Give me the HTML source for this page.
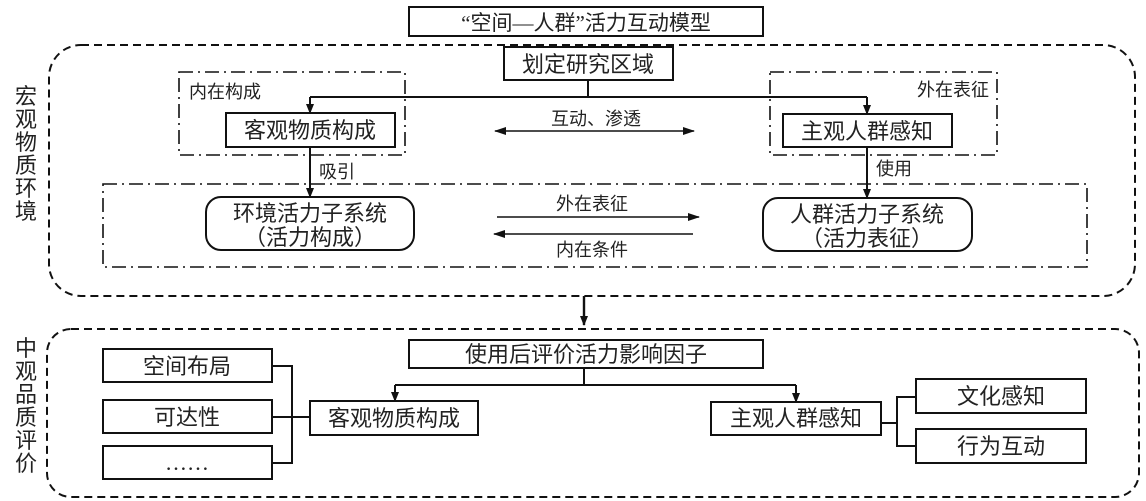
<!DOCTYPE html>
<html><head><meta charset="utf-8"><style>
html,body{margin:0;padding:0;background:#fff;}
svg{display:block;}
text{font-family:"Liberation Serif","Noto Sans CJK SC",sans-serif;fill:#222;}
</style></head><body>
<svg width="1146" height="501" viewBox="0 0 1146 501" xmlns="http://www.w3.org/2000/svg">
<defs>
<marker id="a" markerWidth="10" markerHeight="8" refX="9" refY="4" orient="auto" markerUnits="userSpaceOnUse">
<path d="M0,0 L10,4 L0,8 Z" fill="#111"/></marker>
<marker id="s" markerWidth="12" markerHeight="8" refX="11" refY="4" orient="auto-start-reverse" markerUnits="userSpaceOnUse">
<path d="M0,0 L12,4 L0,8 Z" fill="#111"/></marker>
</defs>
<g stroke="#111" fill="none">
<rect x="409" y="7" width="354" height="29" stroke-width="2"/>
<rect x="49" y="45" width="1086" height="251" rx="32" stroke-width="2" stroke-dasharray="8,5"/>
<rect x="47" y="329" width="1092" height="168" rx="24" stroke-width="2" stroke-dasharray="8,5"/>
<rect x="179" y="72" width="226" height="83" stroke-width="1.6" stroke-dasharray="14,5,2,5"/>
<rect x="770" y="72" width="227" height="83" stroke-width="1.6" stroke-dasharray="14,5,2,5"/>
<rect x="103" y="184" width="984" height="83" stroke-width="1.6" stroke-dasharray="14,5,2,5"/>
<rect x="504" y="47" width="169" height="33" stroke-width="2"/>
<rect x="226" y="113" width="169" height="34" stroke-width="2"/>
<rect x="783" y="114" width="169" height="33" stroke-width="2"/>
<rect x="206" y="197" width="208" height="53" rx="15" stroke-width="2"/>
<rect x="763" y="198" width="209" height="53" rx="15" stroke-width="2"/>
<path d="M588,80 V97 M310,97 H867" stroke-width="2"/>
<path d="M310,97 V113" stroke-width="2" marker-end="url(#a)"/>
<path d="M867,97 V114" stroke-width="2" marker-end="url(#a)"/>
<path d="M310,147 V197" stroke-width="2" marker-end="url(#a)"/>
<path d="M867,147 V198" stroke-width="2" marker-end="url(#a)"/>
<path d="M495,131 H694" stroke-width="1.6" marker-start="url(#s)" marker-end="url(#s)"/>
<path d="M497,217 H699" stroke-width="1.6" marker-end="url(#s)"/>
<path d="M693,234 H494" stroke-width="1.6" marker-end="url(#s)"/>
<path d="M584,296 V325" stroke-width="2.4" marker-end="url(#a)"/>
<rect x="409" y="340" width="354" height="28" stroke-width="2"/>
<path d="M584,368 V385 M395,385 H796" stroke-width="2"/>
<path d="M395,385 V401" stroke-width="2" marker-end="url(#a)"/>
<path d="M796,385 V402" stroke-width="2" marker-end="url(#a)"/>
<rect x="310" y="401" width="168" height="34" stroke-width="2"/>
<rect x="103" y="349" width="169" height="33" stroke-width="2"/>
<rect x="103" y="400" width="169" height="33" stroke-width="2"/>
<rect x="103" y="446" width="169" height="33" stroke-width="2"/>
<path d="M272,366 H292 V463 H272 M272,417 H310" stroke-width="2"/>
<rect x="711" y="402" width="170" height="33" stroke-width="2"/>
<rect x="916" y="379" width="170" height="34" stroke-width="2"/>
<rect x="916" y="429" width="170" height="34" stroke-width="2"/>
<path d="M881,423 H897 M916,397 H897 V446 H916" stroke-width="2"/>
</g>
<g font-size="22" text-anchor="middle">
<text x="588" y="72">划定研究区域</text>
<text x="310" y="138">客观物质构成</text>
<text x="867" y="139">主观人群感知</text>
<text x="310" y="221">环境活力子系统</text>
<text x="310" y="245">（活力构成）</text>
<text x="867" y="222">人群活力子系统</text>
<text x="867" y="246">（活力表征）</text>
<text x="586" y="362">使用后评价活力影响因子</text>
<text x="394" y="426">客观物质构成</text>
<text x="796" y="426">主观人群感知</text>
<text x="187" y="374">空间布局</text>
<text x="187" y="425">可达性</text>
<text x="187" y="470">……</text>
<text x="1001" y="404">文化感知</text>
<text x="1001" y="454">行为互动</text>
</g>
<text x="586" y="30" font-size="21" text-anchor="middle">“空间—人群”活力互动模型</text>
<g font-size="18" text-anchor="middle">
<text x="225" y="98">内在构成</text>
<text x="953" y="96">外在表征</text>
<text x="596" y="125">互动、渗透</text>
<text x="337" y="178">吸引</text>
<text x="894" y="175">使用</text>
<text x="592" y="210">外在表征</text>
<text x="592" y="256">内在条件</text>
</g>
<g font-size="22" text-anchor="middle">
<text x="26" y="104">宏</text><text x="26" y="127">观</text><text x="26" y="150">物</text>
<text x="26" y="173">质</text><text x="26" y="196">环</text><text x="26" y="219">境</text>
<text x="26" y="356">中</text><text x="26" y="379">观</text><text x="26" y="402">品</text>
<text x="26" y="425">质</text><text x="26" y="448">评</text><text x="26" y="471">价</text>
</g>
</svg>
</body></html>
